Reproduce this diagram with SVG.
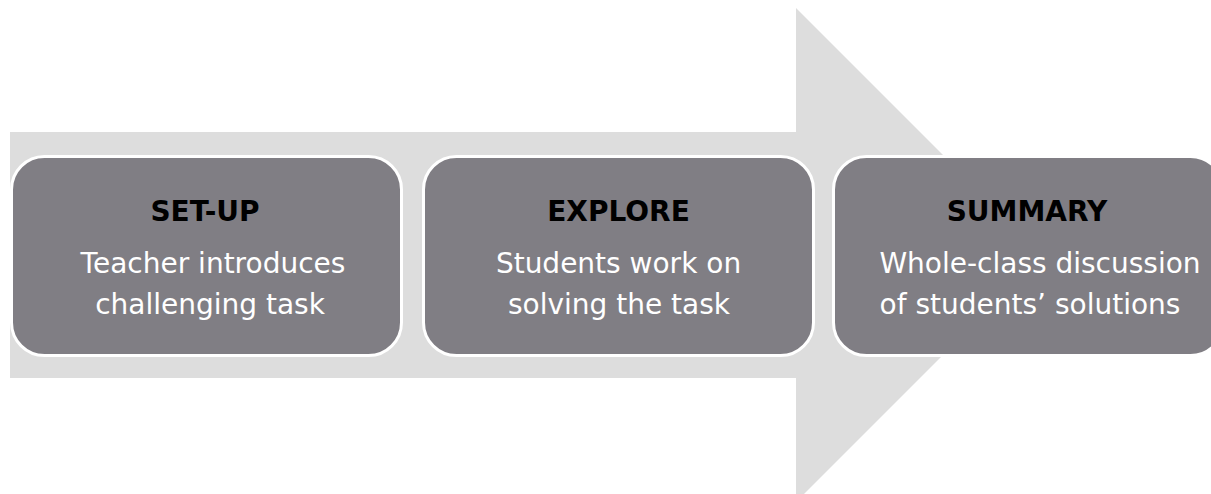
<svg xmlns="http://www.w3.org/2000/svg" width="1211" height="494" viewBox="0 0 1211 494">
<style>
.box{fill:#807e84;stroke:#ffffff;stroke-width:3}
.t{font-family:"DejaVu Sans",sans-serif;font-size:28px;text-anchor:middle}
.h{font-weight:bold;fill:#000000}
.b{fill:#ffffff}
</style>
<rect width="1211" height="494" fill="#ffffff"/>
<g id="connectors">
<polygon points="10,132 796,132 796,8 1043,255 796,502 796,378 10,378" fill="#dddddd"/>
</g>
<g id="setup">
<rect class="box" x="11.5" y="156.5" width="390" height="199" rx="33"/>
<text class="t h" x="205" y="221">SET-UP</text>
<text class="t b" x="213" y="273">Teacher introduces</text>
<text class="t b" x="210" y="314">challenging task</text>
</g>
<g id="explore">
<rect class="box" x="423.5" y="156.5" width="390" height="199" rx="33"/>
<text class="t h" x="618.5" y="221">EXPLORE</text>
<text class="t b" x="618.5" y="273">Students work on</text>
<text class="t b" x="619" y="314">solving the task</text>
</g>
<g id="summary">
<rect class="box" x="833.5" y="156.5" width="390" height="199" rx="33"/>
<text class="t h" x="1027" y="221">SUMMARY</text>
<text class="t b" x="1040" y="273">Whole-class discussion</text>
<text class="t b" x="1030" y="314">of students’ solutions</text>
</g>
</svg>
